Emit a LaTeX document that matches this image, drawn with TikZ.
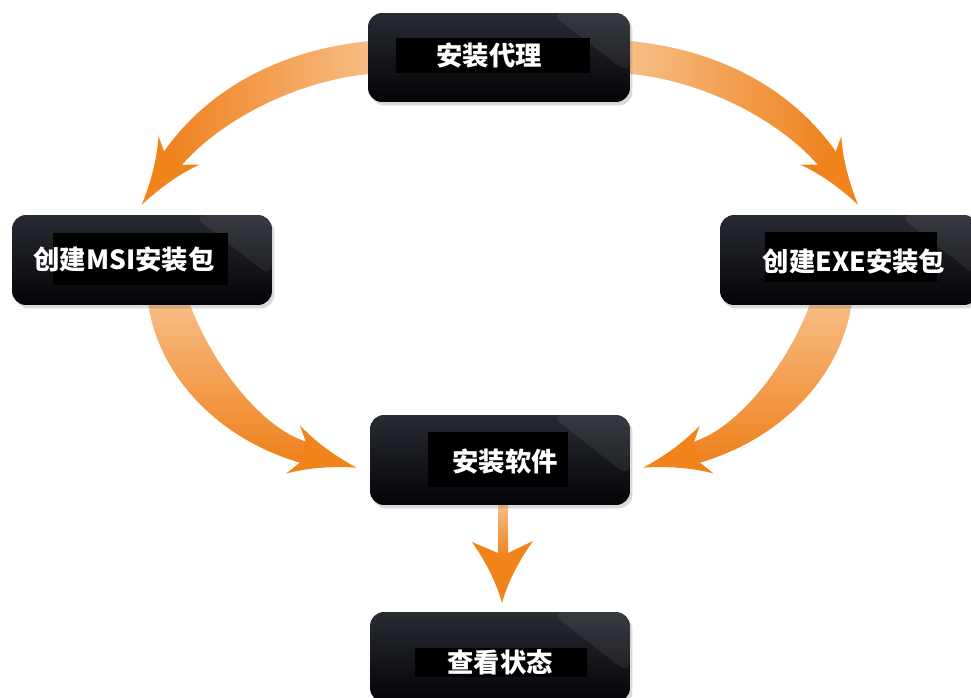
\documentclass[tikz,border=0pt]{standalone}
\usepackage{fontspec}
\setmainfont{Noto Sans CJK SC}
\usetikzlibrary{shadows}
\definecolor{arL}{RGB}{248,194,140}
\definecolor{arD}{RGB}{238,128,28}
\definecolor{arH}{RGB}{240,132,26}
\definecolor{bxT}{RGB}{40,43,50}
\definecolor{bxM}{RGB}{12,14,19}
\definecolor{bxB}{RGB}{3,4,7}
\newcommand\myarrowhead{\fill[arH] (8,11) -- (-2,25) .. controls (20,12) and (42,5) .. (64,0)
     .. controls (42,-5) and (20,-12) .. (-2,-25) -- (8,-11) -- cycle;}
\tikzset{
  stepbox/.style={rectangle, rounded corners=0.28cm, minimum width=5.2cm, minimum height=1.8cm,
    inner sep=0pt, outer sep=0pt, top color=bxT, middle color=bxM, bottom color=bxB,
    drop shadow={shadow xshift=0.5mm, shadow yshift=-0.7mm, opacity=0.3},
    path picture={\fill[white,opacity=0.07]
      ([xshift=-1.6cm]path picture bounding box.north east) --
      (path picture bounding box.north east) --
      ([yshift=0.55cm]path picture bounding box.south east) -- cycle;}},
  lbl/.style={text=white, font=\bfseries\fontsize{15}{18}\selectfont, inner sep=0pt}
}
\begin{document}
\begin{tikzpicture}[x=0.02cm,y=-0.02cm]
\useasboundingbox (0,0) rectangle (971,697);
% left arrows
\shade[left color=arD, right color=arL] (385,40) .. controls (290,45) and (210,85) .. (163,153)
  -- (181,166) .. controls (225,115) and (310,75) .. (385,73) -- cycle;
\begin{scope}[shift={(178,152)}, rotate=235.5]\myarrowhead\end{scope}
\shade[top color=arL, bottom color=arD] (147,290) .. controls (150,360) and (205,435) .. (301,463)
  -- (307,442) .. controls (258,427) and (205,355) .. (185,290) -- cycle;
\begin{scope}[shift={(295,450)}, rotate=-16]\myarrowhead\end{scope}
% right arrows (mirror)
\begin{scope}[xshift=20cm, xscale=-1]
\shade[left color=arL, right color=arD] (385,40) .. controls (290,45) and (210,85) .. (163,153)
  -- (181,166) .. controls (225,115) and (310,75) .. (385,73) -- cycle;
\begin{scope}[shift={(178,152)}, rotate=235.5]\myarrowhead\end{scope}
\shade[top color=arL, bottom color=arD] (147,290) .. controls (150,360) and (205,435) .. (301,463)
  -- (307,442) .. controls (258,427) and (205,355) .. (185,290) -- cycle;
\begin{scope}[shift={(295,450)}, rotate=-16]\myarrowhead\end{scope}
\end{scope}
% down arrow
\shade[top color=arL, bottom color=arD] (498,500) rectangle (508,558);
\fill[arH] (498,553) -- (472,542) .. controls (488,565) and (497,585) .. (502,603)
  .. controls (507,585) and (516,565) .. (533,541) -- (508,553) -- cycle;
% boxes
\node[stepbox, minimum width=5.24cm, minimum height=1.78cm] (agent) at (499,57.5) {};
\node[stepbox] (msi) at (142,260) {};
\node[stepbox, minimum width=5.16cm] (exe) at (849,260) {};
\node[stepbox] (inst) at (500,460) {};
\node[stepbox] (stat) at (500,657) {};
% text backgrounds
\fill[black] (396,38) rectangle (590,73);
\fill[black] (53,233) rectangle (228,285);
\fill[black] (765,232) rectangle (937,282);
\fill[black] (428,432) rectangle (568,487);
\fill[black] (415,648) rectangle (587,677);
% labels
\node[lbl] (tagent) at (489,56) {安装代理};
\node[lbl] (tmsi) at (124,260) {创建MSI安装包};
\node[lbl] (texe) at (854,262) {创建EXE安装包};
\node[lbl] (tinst) at (505,462) {安装软件};
\node[lbl] (tstat) at (500,662) {查看状态};
\end{tikzpicture}
\end{document}
